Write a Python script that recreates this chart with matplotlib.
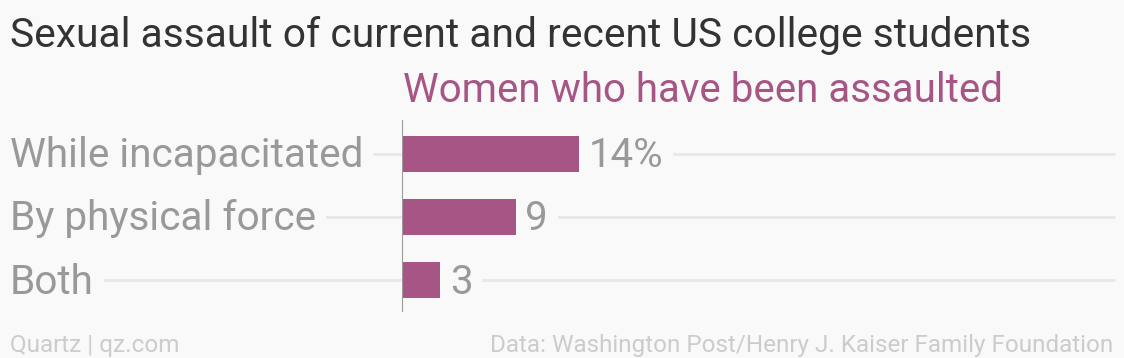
import matplotlib
matplotlib.use('Agg')
import matplotlib.pyplot as plt
import matplotlib.transforms as mtransforms

# data
categories = ['While incapacitated', 'By physical force', 'Both']
values = [14, 9, 3]
value_labels = ['14%', '9', '3']

title = 'Sexual assault of current and recent US college students'
series_name = 'Women who have been assaulted'
source = 'Data: Washington Post/Henry J. Kaiser Family Foundation'
credit = 'Quartz | qz.com'

bg = '#f9f9f9'
bar_color = '#a65585'
label_gray = '#999999'
grid_color = '#e8e8e8'

plt.rcParams['font.family'] = ['Roboto', 'DejaVu Sans']

W, H = 1124, 358
fig = plt.figure(figsize=(W / 100, H / 100), dpi=100, facecolor=bg)

# axes placed in pixel terms: zero line at x=402, right end of grid at 1115
ax_left, ax_right = 402, 1115
ax_top, ax_bot = 120, 312
ax = fig.add_axes([ax_left / W, 1 - ax_bot / H, (ax_right - ax_left) / W, (ax_bot - ax_top) / H])
ax.set_facecolor(bg)
ax.patch.set_alpha(0)

px_per_unit = 12.64
xmax = (ax_right - ax_left) / px_per_unit
ax.set_xlim(0, xmax)
ax.set_ylim(2.507, -0.534)
for s in ax.spines.values():
    s.set_visible(False)
ax.set_xticks([])
ax.set_yticks([])

ypos = list(range(len(categories)))
xleft = (10 - ax_left) / px_per_unit

# grid lines across the whole width
ax.hlines(ypos, xleft, xmax, color=grid_color, lw=2, zorder=1, clip_on=False)

ax.barh(ypos, values, height=0.57, color=bar_color, zorder=3)
ax.axvline(0, color='#999999', lw=1.5, zorder=4)

box = dict(facecolor=bg, edgecolor='none', pad=7)
for y, v, lab in zip(ypos, values, value_labels):
    ax.annotate(lab, (v, y), xytext=(7, -1.5), textcoords='offset points',
                ha='left', va='center', fontsize=29, color=label_gray,
                bbox=box, zorder=2)

tr = mtransforms.blended_transform_factory(fig.transFigure, ax.transData)
for y, c in zip(ypos, categories):
    ax.annotate(c, (10 / W, y), xycoords=tr, xytext=(0, -1.5),
                textcoords='offset points', ha='left', va='center',
                fontsize=29.2, color=label_gray, bbox=box, zorder=2,
                annotation_clip=False)

fig.text(10 / W, 1 - 46.7 / H, title, ha='left', va='baseline',
         fontsize=29.3, color='#333333')
fig.text(403 / W, 1 - 101.7 / H, series_name, ha='left', va='baseline',
         fontsize=29, color=bar_color)
fig.text(10 / W, 1 - 351.7 / H, credit, ha='left', va='baseline',
         fontsize=17.5, color='#cccccc')
fig.text(1113 / W, 1 - 351.7 / H, source, ha='right', va='baseline',
         fontsize=17.5, color='#cccccc')

fig.savefig('out.png', dpi=100, facecolor=bg)
